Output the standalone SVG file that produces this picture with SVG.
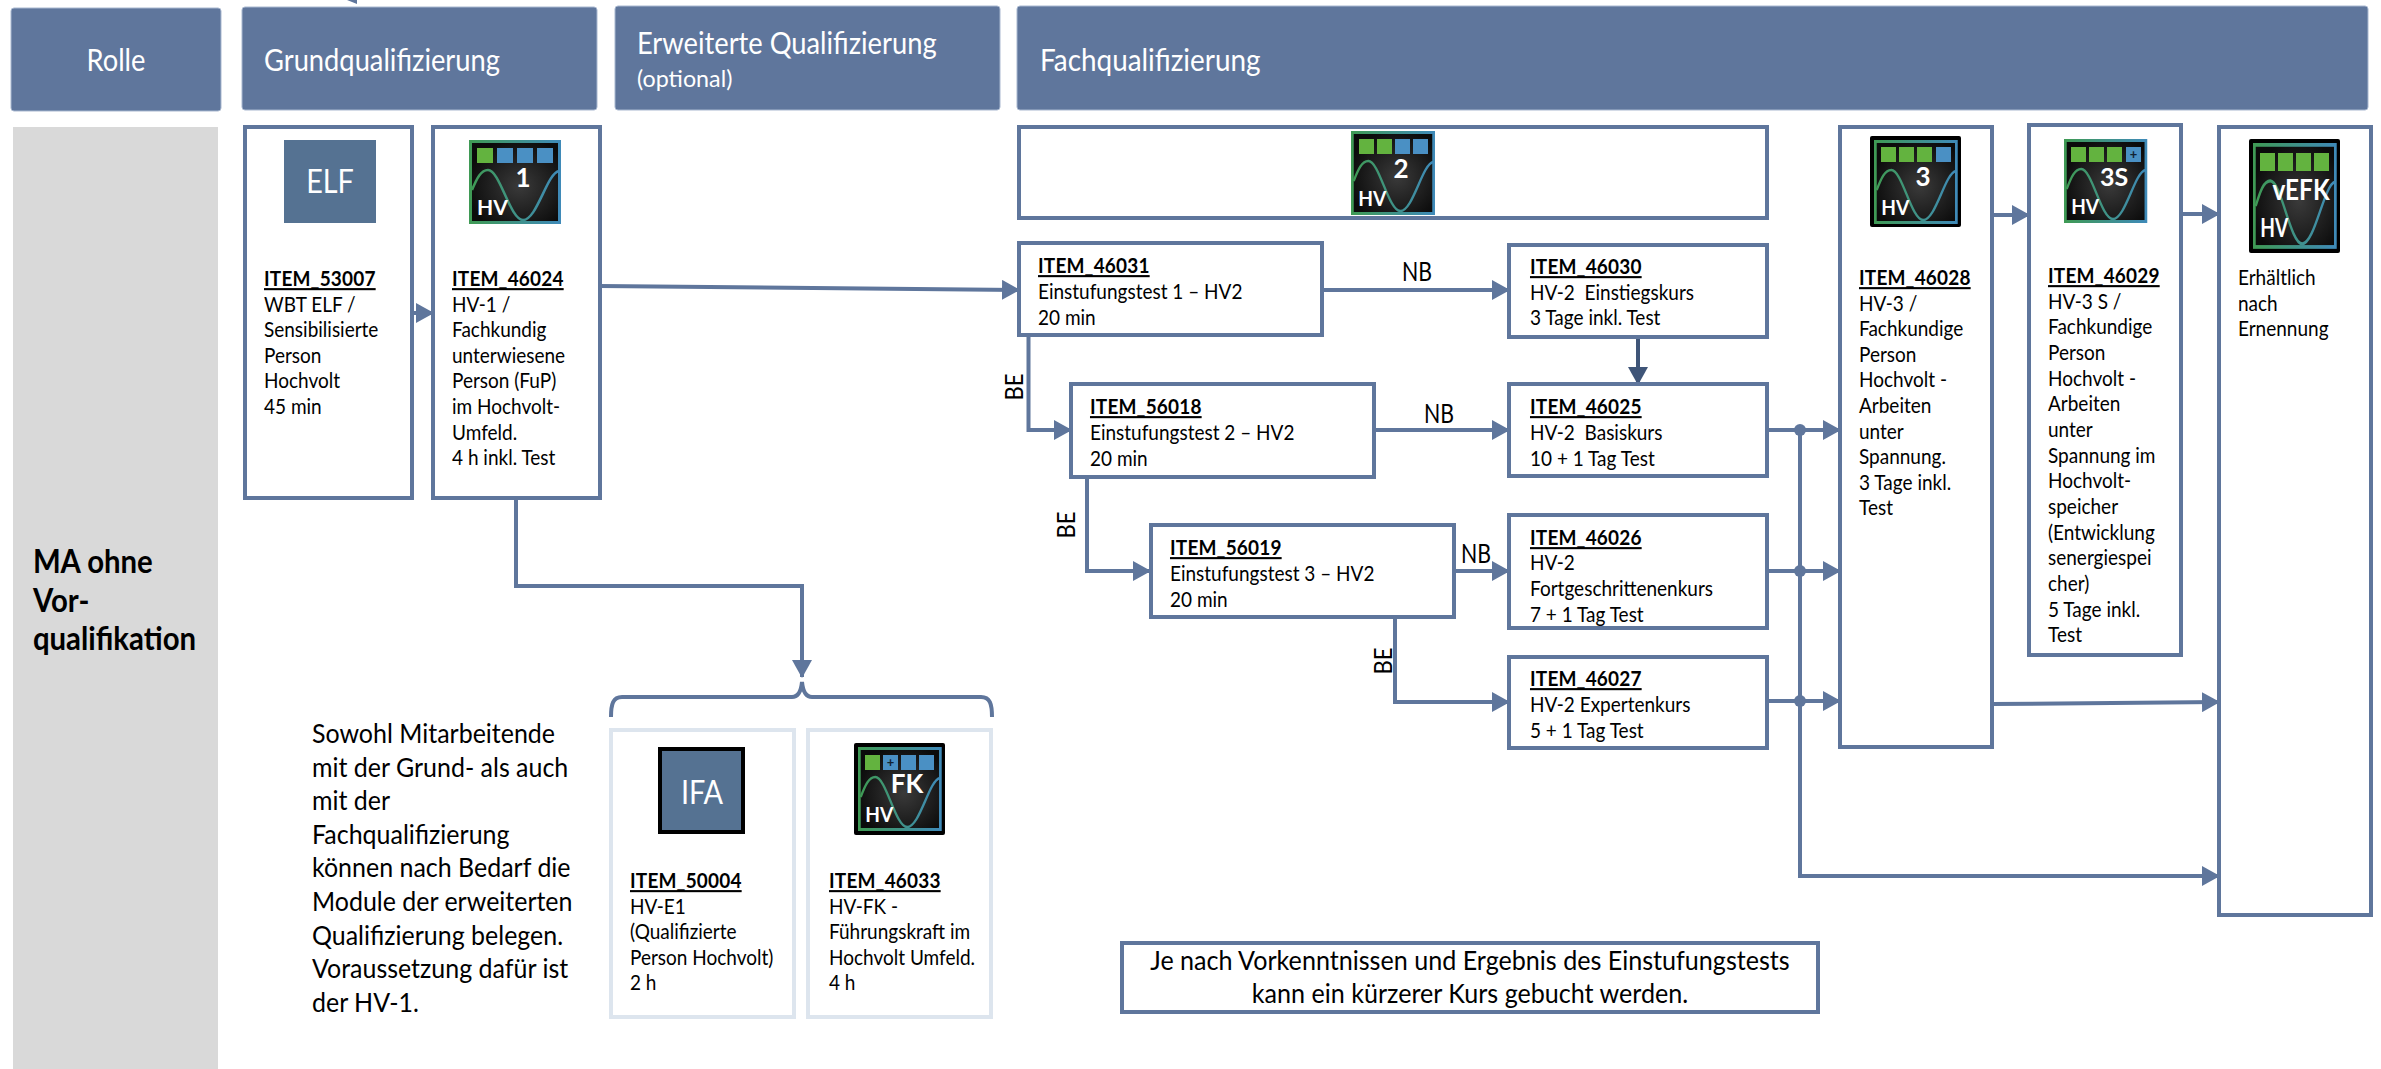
<svg xmlns="http://www.w3.org/2000/svg" width="2381" height="1069" viewBox="0 0 2381 1069">
<style>
text{font-family:"Lato","Liberation Sans",sans-serif;fill:#000;transform-box:fill-box}
.t{font-size:21px;transform-origin:0 0;transform:scaleX(.905)}
.b{font-weight:700;text-decoration:underline;letter-spacing:.2px}
.hd{fill:#5f769c;stroke:#a9b8d0;stroke-width:1}
.h{font-size:30px;fill:#fff;transform-origin:0 0;transform:scaleX(.91)}
.hm{transform-origin:50% 0}
.opt{font-size:24px;transform:scaleX(.97)}
.box{fill:#fff;stroke:#5f769c;stroke-width:4}
.lt{fill:#fff;stroke:#dde5ee;stroke-width:4}
.c{fill:none;stroke:#5f769c;stroke-width:4}
.lab{font-size:26px;text-anchor:middle;transform-origin:50% 0;transform:scaleX(.82)}
.be{font-size:26px;text-anchor:middle;transform-box:view-box;transform-origin:0 0}
.ic{font-weight:700;fill:#fff;text-anchor:middle}
.ict{font-size:26px}
.abbr{font-size:32px;fill:#fff;text-anchor:middle;transform-origin:50% 0;transform:scaleX(.9)}
.plus{font-size:13px;fill:#123}
.sq{stroke:none}
.g{fill:#63b33f}.u{fill:#4a90c4}
.role{font-size:33px;font-weight:700;transform-origin:0 0;transform:scaleX(.89)}
.para{font-size:27px;transform-origin:0 0;transform:scaleX(.925)}
.nt{font-size:27px;text-anchor:middle;transform-origin:50% 0;transform:scaleX(.93)}
.dot{fill:#5f769c}
</style>
<defs>
<marker id="a" markerUnits="userSpaceOnUse" markerWidth="18" markerHeight="20" refX="17" refY="10" orient="auto"><path d="M0,0L18,10L0,20Z" fill="#5f769c"/></marker>
<marker id="d" markerUnits="userSpaceOnUse" markerWidth="18" markerHeight="20" refX="17" refY="10" orient="auto"><path d="M0,0L18,10L0,20Z" fill="#3f5578"/></marker>
<radialGradient id="bg" cx=".55" cy=".55" r=".6"><stop offset="0" stop-color="#3a3a3a"/><stop offset="1" stop-color="#0b0b0b"/></radialGradient>
<linearGradient id="fr" x1="0" y1="0" x2="1" y2="0"><stop offset="0" stop-color="#3f9a55"/><stop offset="1" stop-color="#3f8ab8"/></linearGradient>
<g id="base">
<rect x="1.500" y="1.500" width="89" height="81" fill="url(#bg)" stroke="url(#fr)" stroke-width="3"/>
<path d="M3,50C8,38 12,30 19,30C31,30 41,80 54,80C68,80 78,33 90,31" fill="none" stroke="url(#fr)" stroke-width="2.500"/>
<text x="8" y="75" class="ic" style="text-anchor:start;font-size:21px">HV</text>
</g>
</defs>
<rect x="13" y="127" width="205" height="942" fill="#d9d9d9"/>
<g id="header-rolle"><rect class="hd" x="11" y="8" width="210" height="103" rx="3"/><text class="h hm" x="116" y="71" text-anchor="middle">Rolle</text></g>
<g id="header-grund"><rect class="hd" x="242" y="7" width="355" height="103" rx="3"/><text class="h" x="264" y="71">Grundqualifizierung</text></g>
<g id="header-erw"><rect class="hd" x="615" y="6" width="385" height="104" rx="3"/><text class="h" x="637" y="54">Erweiterte Qualifizierung</text><text class="h opt" x="637" y="87">(optional)</text></g>
<g id="header-fach"><rect class="hd" x="1017" y="6" width="1351" height="104" rx="3"/><text class="h" style="transform:scaleX(.93)" x="1040" y="71">Fachqualifizierung</text></g>
<path d="M347,0H357V4Z" fill="#5f769c"/>
<g id="connectors">
<path class="c" d="M412,313H433" marker-end="url(#a)"/>
<path class="c" d="M600,286L1019,290" marker-end="url(#a)"/>
<path class="c" d="M1322,290H1509" marker-end="url(#a)"/>
<path class="c" d="M1638,337V384" style="stroke:#3f5578" marker-end="url(#d)"/>
<path class="c" d="M1028.500,335V430H1071" marker-end="url(#a)"/>
<path class="c" d="M1374,430H1509" marker-end="url(#a)"/>
<path class="c" d="M1087,477V571H1150" marker-end="url(#a)"/>
<path class="c" d="M1454,571H1509" marker-end="url(#a)"/>
<path class="c" d="M1395,617V702H1509" marker-end="url(#a)"/>
<path class="c" d="M1767,430H1840" marker-end="url(#a)"/>
<path class="c" d="M1767,571H1840" marker-end="url(#a)"/>
<path class="c" d="M1767,701H1840" marker-end="url(#a)"/>
<path class="c" d="M1800,430V876H2219" marker-end="url(#a)"/>
<path class="c" d="M1992,704L2219,702" marker-end="url(#a)"/>
<path class="c" d="M1992,215H2029" marker-end="url(#a)"/>
<path class="c" d="M2181,214H2219" marker-end="url(#a)"/>
<path class="c" d="M516,498V586H802V677" marker-end="url(#a)"/>
<path class="c" d="M611,717C611,704 613,697 622,697H792C798,697 801,692 802,682C803,692 806,697 812,697H981C990,697 992,704 992,717"/>
<circle class="dot" cx="1800" cy="430" r="6"/><circle class="dot" cx="1800" cy="571" r="6"/><circle class="dot" cx="1800" cy="701" r="6"/>
<text class="lab" x="1417" y="281">NB</text>
<text class="lab" x="1439" y="423">NB</text>
<text class="lab" x="1476" y="563">NB</text>
<text class="be" transform="translate(1023,387) rotate(-90) scale(.85,1)">BE</text>
<text class="be" transform="translate(1075,525) rotate(-90) scale(.85,1)">BE</text>
<text class="be" transform="translate(1392,661) rotate(-90) scale(.85,1)">BE</text>
</g>
<g id="n53007"><rect class="box" x="245" y="127" width="167" height="371"/>
<rect x="284" y="140" width="92" height="83" fill="#557292"/><text class="abbr" x="330" y="193">ELF</text>
<text class="t"><tspan class="b" x="264" y="286">ITEM_53007</tspan><tspan x="264" y="311.600">WBT ELF /</tspan><tspan x="264" y="337.200">Sensibilisierte</tspan><tspan x="264" y="362.800">Person</tspan><tspan x="264" y="388.400">Hochvolt</tspan><tspan x="264" y="414">45 min</tspan></text></g>
<g id="n46024"><rect class="box" x="433" y="127" width="167" height="371"/>
<use href="#base" x="469" y="140"/><rect class="sq g" x="477" y="148" width="16" height="15"/><rect class="sq u" x="497" y="148" width="16" height="15"/><rect class="sq u" x="517" y="148" width="16" height="15"/><rect class="sq u" x="537" y="148" width="16" height="15"/><text class="ic ict" x="523" y="187">1</text>
<text class="t"><tspan class="b" x="452" y="286">ITEM_46024</tspan><tspan x="452" y="311.600">HV-1 /</tspan><tspan x="452" y="337.200">Fachkundig</tspan><tspan x="452" y="362.800">unterwiesene</tspan><tspan x="452" y="388.400">Person (FuP)</tspan><tspan x="452" y="414">im Hochvolt-</tspan><tspan x="452" y="439.600">Umfeld.</tspan><tspan x="452" y="465.200">4 h inkl. Test</tspan></text></g>
<g id="n2"><rect class="box" x="1019" y="127" width="748" height="91"/>
<use href="#base" transform="translate(1351,131) scale(.913,1)"/><rect class="sq g" x="1359" y="139" width="15" height="15"/><rect class="sq g" x="1377" y="139" width="15" height="15"/><rect class="sq u" x="1395" y="139" width="15" height="15"/><rect class="sq u" x="1413" y="139" width="15" height="15"/><text class="ic ict" x="1401" y="178">2</text></g>
<g id="n46031"><rect class="box" x="1019" y="243" width="303" height="92"/><text class="t"><tspan class="b" x="1038" y="273">ITEM_46031</tspan><tspan x="1038" y="299">Einstufungstest 1 – HV2</tspan><tspan x="1038" y="325">20 min</tspan></text></g>
<g id="n46030"><rect class="box" x="1509" y="245" width="258" height="92"/><text class="t"><tspan class="b" x="1530" y="274">ITEM_46030</tspan><tspan x="1530" y="300" xml:space="preserve">HV-2  Einstiegskurs</tspan><tspan x="1530" y="325">3 Tage inkl. Test</tspan></text></g>
<g id="n56018"><rect class="box" x="1071" y="384" width="303" height="93"/><text class="t"><tspan class="b" x="1090" y="414">ITEM_56018</tspan><tspan x="1090" y="440">Einstufungstest 2 – HV2</tspan><tspan x="1090" y="466">20 min</tspan></text></g>
<g id="n46025"><rect class="box" x="1509" y="384" width="258" height="92"/><text class="t"><tspan class="b" x="1530" y="414">ITEM_46025</tspan><tspan x="1530" y="440" xml:space="preserve">HV-2  Basiskurs</tspan><tspan x="1530" y="466">10 + 1 Tag Test</tspan></text></g>
<g id="n56019"><rect class="box" x="1151" y="525" width="303" height="92"/><text class="t"><tspan class="b" x="1170" y="555">ITEM_56019</tspan><tspan x="1170" y="581">Einstufungstest 3 – HV2</tspan><tspan x="1170" y="607">20 min</tspan></text></g>
<g id="n46026"><rect class="box" x="1509" y="515" width="258" height="113"/><text class="t"><tspan class="b" x="1530" y="545">ITEM_46026</tspan><tspan x="1530" y="570">HV-2</tspan><tspan x="1530" y="596">Fortgeschrittenenkurs</tspan><tspan x="1530" y="622">7 + 1 Tag Test</tspan></text></g>
<g id="n46027"><rect class="box" x="1509" y="657" width="258" height="91"/><text class="t"><tspan class="b" x="1530" y="686">ITEM_46027</tspan><tspan x="1530" y="712">HV-2 Expertenkurs</tspan><tspan x="1530" y="738">5 + 1 Tag Test</tspan></text></g>
<g id="n46028"><rect class="box" x="1840" y="127" width="152" height="620"/>
<rect x="1870" y="136" width="91" height="91" rx="2" fill="#000"/><use href="#base" transform="translate(1874,140) scale(.91,1)"/><rect class="sq g" x="1881" y="147" width="15" height="15"/><rect class="sq g" x="1899" y="147" width="15" height="15"/><rect class="sq g" x="1917" y="147" width="15" height="15"/><rect class="sq u" x="1936" y="147" width="15" height="15"/><text class="ic ict" x="1923" y="186">3</text>
<text class="t"><tspan class="b" x="1859" y="285">ITEM_46028</tspan><tspan x="1859" y="310.600">HV-3 /</tspan><tspan x="1859" y="336.200">Fachkundige</tspan><tspan x="1859" y="361.800">Person</tspan><tspan x="1859" y="387.400">Hochvolt -</tspan><tspan x="1859" y="413">Arbeiten</tspan><tspan x="1859" y="438.600">unter</tspan><tspan x="1859" y="464.200">Spannung.</tspan><tspan x="1859" y="489.800">3 Tage inkl.</tspan><tspan x="1859" y="515.400">Test</tspan></text></g>
<g id="n46029"><rect class="box" x="2029" y="125" width="152" height="530"/>
<use href="#base" transform="translate(2064,139) scale(.905,1)"/><rect class="sq g" x="2071" y="147" width="15" height="15"/><rect class="sq g" x="2089" y="147" width="15" height="15"/><rect class="sq g" x="2107" y="147" width="15" height="15"/><rect class="sq u" x="2126" y="147" width="15" height="15"/><text x="2133.500" y="159" class="ic plus">+</text><text class="ic" x="2114" y="186" style="font-size:25px">3S</text>
<text class="t"><tspan class="b" x="2048" y="283">ITEM_46029</tspan><tspan x="2048" y="308.700">HV-3 S /</tspan><tspan x="2048" y="334.400">Fachkundige</tspan><tspan x="2048" y="360">Person</tspan><tspan x="2048" y="385.700">Hochvolt -</tspan><tspan x="2048" y="411.400">Arbeiten</tspan><tspan x="2048" y="437">unter</tspan><tspan x="2048" y="462.800">Spannung im</tspan><tspan x="2048" y="488.400">Hochvolt-</tspan><tspan x="2048" y="514">speicher</tspan><tspan x="2048" y="539.800">(Entwicklung</tspan><tspan x="2048" y="565.500">senergiespei</tspan><tspan x="2048" y="591">cher)</tspan><tspan x="2048" y="616.800">5 Tage inkl.</tspan><tspan x="2048" y="642.500">Test</tspan></text></g>
<g id="nvEFK"><rect class="box" x="2219" y="127" width="152" height="788"/>
<rect x="2249" y="139" width="91" height="114" rx="2" fill="#000"/><use href="#base" transform="translate(2253,143) scale(.91,1.26)"/><rect class="sq g" x="2260" y="153" width="15" height="18"/><rect class="sq g" x="2278" y="153" width="15" height="18"/><rect class="sq g" x="2296" y="153" width="15" height="18"/><rect class="sq g" x="2314" y="153" width="15" height="18"/><text class="ic" x="2301" y="200" style="font-size:29px;transform-origin:50% 0;transform:scaleX(.84)">vEFK</text>
<text class="t"><tspan x="2238" y="285">Erhältlich</tspan><tspan x="2238" y="311">nach</tspan><tspan x="2238" y="336">Ernennung</tspan></text></g>
<g id="n50004"><rect class="lt" x="611" y="730" width="183" height="287"/>
<rect x="660" y="749" width="83" height="83" fill="#557292" stroke="#000" stroke-width="4"/><text class="abbr" x="702" y="804">IFA</text>
<text class="t"><tspan class="b" x="630" y="888">ITEM_50004</tspan><tspan x="630" y="913.600">HV-E1</tspan><tspan x="630" y="939.200">(Qualifizierte</tspan><tspan x="630" y="964.800">Person Hochvolt)</tspan><tspan x="630" y="990.400">2 h</tspan></text></g>
<g id="n46033"><rect class="lt" x="808" y="730" width="183" height="287"/>
<rect x="854" y="743" width="91" height="92" rx="2" fill="#000"/><use href="#base" transform="translate(858,747) scale(.91,1)"/><rect class="sq g" x="865" y="755" width="15" height="15"/><rect class="sq u" x="883" y="755" width="15" height="15"/><text x="890.500" y="767" class="ic plus">+</text><rect class="sq u" x="901" y="755" width="15" height="15"/><rect class="sq u" x="919" y="755" width="15" height="15"/><text class="ic ict" x="907" y="793">FK</text>
<text class="t"><tspan class="b" x="829" y="888">ITEM_46033</tspan><tspan x="829" y="913.600">HV-FK -</tspan><tspan x="829" y="939.200">Führungskraft im</tspan><tspan x="829" y="964.800">Hochvolt Umfeld.</tspan><tspan x="829" y="990.400">4 h</tspan></text></g>
<text class="role"><tspan x="33" y="573">MA ohne</tspan><tspan x="33" y="612">Vor-</tspan><tspan x="33" y="650">qualifikation</tspan></text>
<text class="para"><tspan x="312" y="743">Sowohl Mitarbeitende</tspan><tspan x="312" y="776.600">mit der Grund- als auch</tspan><tspan x="312" y="810.200">mit der</tspan><tspan x="312" y="843.800">Fachqualifizierung</tspan><tspan x="312" y="877.400">können nach Bedarf die</tspan><tspan x="312" y="911">Module der erweiterten</tspan><tspan x="312" y="944.600">Qualifizierung belegen.</tspan><tspan x="312" y="978.200">Voraussetzung dafür ist</tspan><tspan x="312" y="1012">der HV-1.</tspan></text>
<g id="note"><rect x="1122" y="943" width="696" height="69" fill="#fff" stroke="#5f769c" stroke-width="4"/><text class="nt"><tspan x="1470" y="970">Je nach Vorkenntnissen und Ergebnis des Einstufungstests</tspan><tspan x="1470" y="1003">kann ein kürzerer Kurs gebucht werden.</tspan></text></g>
</svg>
